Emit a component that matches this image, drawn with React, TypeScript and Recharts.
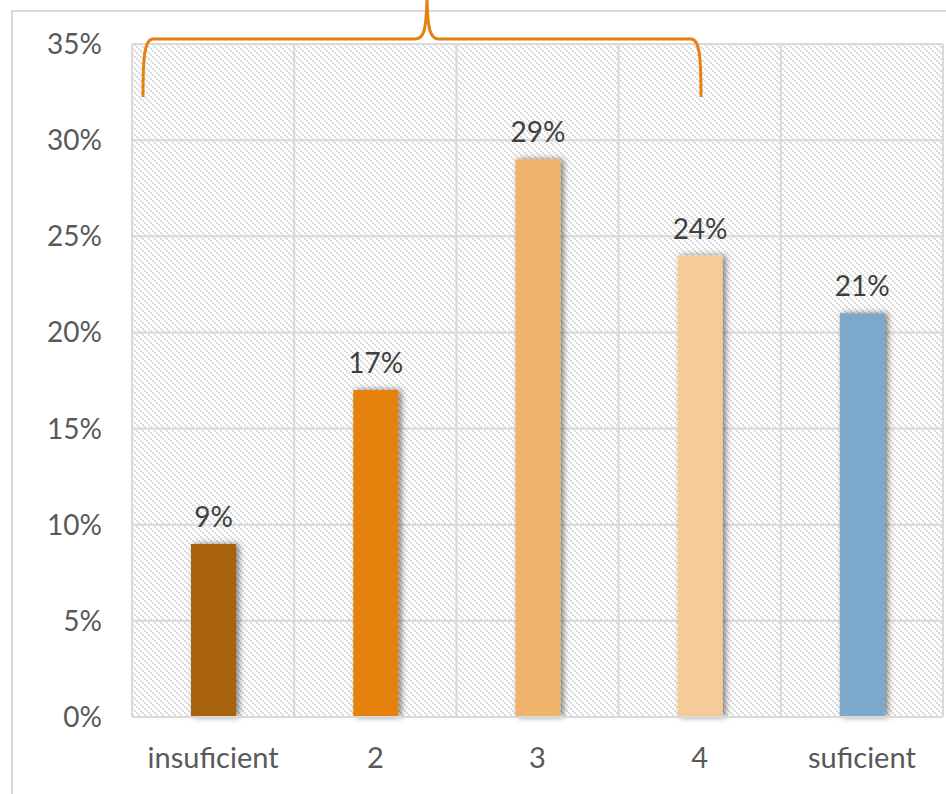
import { BarChart, Bar, XAxis, YAxis, CartesianGrid, Cell, LabelList } from "recharts";

const categories = ["insuficient", "2", "3", "4", "suficient"];
const shares = [9, 17, 29, 24, 21];
const barColors = ["#A8620F", "#E5820F", "#F0B36C", "#F5CC99", "#7CA8CB"];
const yTicks = [0, 5, 10, 15, 20, 25, 30, 35];

const data = categories.map((name, i) => ({ name, value: shares[i] }));

const FONT = "Lato, 'Open Sans', sans-serif";

export default function App() {
  return (
    <div style={{ position: "absolute", left: 0, top: 0, width: 946, height: 794, background: "#fff", fontFamily: FONT }}>
      {/* chart frame */}
      <div
        style={{
          position: "absolute",
          left: 11,
          top: 10,
          width: 935,
          height: 784,
          borderLeft: "2px solid #d9d9d9",
          borderTop: "2px solid #d9d9d9",
        }}
      />
      <div style={{ position: "absolute", left: 0, top: 0 }}>
        <BarChart width={946} height={794} data={data} margin={{ top: 44, right: 3, bottom: 0, left: 0 }} barSize={45}>
          <defs>
            <pattern id="hatch" width="6" height="6" patternUnits="userSpaceOnUse">
              <rect width="6" height="6" fill="#ffffff" />
              <rect x="0" y="0" width="2" height="2" fill="#dcdcdc" />
              <rect x="2" y="2" width="2" height="2" fill="#dcdcdc" />
              <rect x="4" y="4" width="2" height="2" fill="#dcdcdc" />
            </pattern>
            <filter id="shadow" x="-30%" y="-10%" width="160%" height="120%">
              <feDropShadow dx="3" dy="0" stdDeviation="3" floodColor="#000" floodOpacity="0.5" />
            </filter>
          </defs>
          <CartesianGrid
            fill="url(#hatch)"
            stroke="#d9d9d9"
            strokeWidth={2}
            verticalCoordinatesGenerator={({ offset }) =>
              categories.map((_, i) => offset.left + (i * offset.width) / categories.length).concat(offset.left + offset.width)
            }
          />
          <XAxis
            dataKey="name"
            height={77}
            tickLine={false}
            axisLine={{ stroke: "#d9d9d9", strokeWidth: 2 }}
            tick={{ fill: "#595959", fontSize: 29, fontFamily: FONT }}
            tickMargin={24}
          />
          <YAxis
            width={132}
            domain={[0, 35]}
            ticks={yTicks}
            interval={0}
            tickLine={false}
            axisLine={false}
            tickSize={0}
            tickMargin={30}
            tickFormatter={(v) => `${v}%`}
            tick={{ fill: "#595959", fontSize: 28, fontFamily: FONT }}
          />
          <Bar dataKey="value" isAnimationActive={false} style={{ filter: "url(#shadow)" }}>
            {data.map((d, i) => (
              <Cell key={d.name} fill={barColors[i]} />
            ))}
            <LabelList
              dataKey="value"
              position="top"
              offset={17}
              formatter={(v) => `${v}%`}
              fill="#404040"
              fontSize={28}
              fontFamily={FONT}
            />
          </Bar>
        </BarChart>
      </div>
      {/* annotation brace */}
      <svg width={946} height={794} style={{ position: "absolute", left: 0, top: 0, pointerEvents: "none" }}>
        <path
          d="M143 97 C143 60 144 39 153 39 L415 39 C424 39 426 30 427 0 C428 30 430 39 439 39 L691 39 C700 39 701 60 701 97"
          fill="none"
          stroke="#E5820F"
          strokeWidth={3}
        />
      </svg>
    </div>
  );
}
